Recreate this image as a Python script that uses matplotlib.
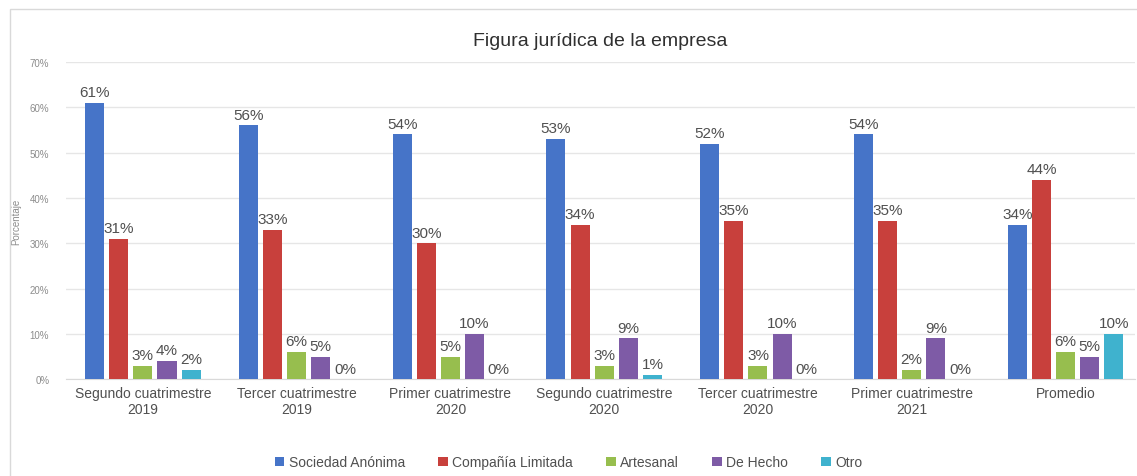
import numpy as np
import matplotlib
matplotlib.use("Agg")
import matplotlib.pyplot as plt
from matplotlib.patches import Rectangle

plt.rcParams['font.family'] = ['Liberation Sans', 'DejaVu Sans']

categories = ["Segundo cuatrimestre\n2019", "Tercer cuatrimestre\n2019", "Primer cuatrimestre\n2020",
              "Segundo cuatrimestre\n2020", "Tercer cuatrimestre\n2020", "Primer cuatrimestre\n2021",
              "Promedio"]
series_names = ["Sociedad Anónima", "Compañía Limitada", "Artesanal", "De Hecho", "Otro"]
sociedad = [61, 56, 54, 53, 52, 54, 34]
compania = [31, 33, 30, 34, 35, 35, 44]
artesanal = [3, 6, 5, 3, 3, 2, 6]
de_hecho = [4, 5, 10, 9, 10, 9, 5]
otro = [2, 0, 0, 1, 0, 0, 10]
colors = ["#4674C8", "#C8403C", "#97BE4E", "#7E5BA6", "#3FB2CE"]

series = [sociedad, compania, artesanal, de_hecho, otro]

fig = plt.figure(figsize=(11.37, 4.77), dpi=100)
fig.patches.append(Rectangle((0.009, -0.01), 1.0, 0.99, transform=fig.transFigure,
                             fill=False, edgecolor="#D9D9D9", linewidth=1))
ax = fig.add_axes([0.058, 0.203, 0.94, 0.665])

x = np.arange(len(categories))
step = 0.157
width = 0.124
for i, (name, vals) in enumerate(zip(series_names, series)):
    pos = x + (i - 2) * step
    ax.bar(pos, vals, width, color=colors[i], label=name, zorder=3)
    for p, v in zip(pos, vals):
        ax.text(p, v + 0.8, f"{v}%", ha="center", va="bottom", fontsize=11, color="#505050")

ax.set_ylim(0, 70)
ax.set_xlim(-0.5, 6.45)
ax.set_yticks(range(0, 71, 10))
ax.set_yticklabels([f"{t}%" for t in range(0, 71, 10)], fontsize=7, color="#8C8C8C")
ax.set_xticks(x)
ax.set_xticklabels(categories, fontsize=10, color="#505050")
ax.tick_params(axis="both", length=0)
ax.tick_params(axis="y", pad=12)
ax.tick_params(axis="x", pad=5)
ax.grid(axis="y", color="#E6E6E6", linewidth=1, zorder=0)
for s in ["top", "right", "left"]:
    ax.spines[s].set_visible(False)
ax.spines["bottom"].set_color("#D9D9D9")
ax.set_ylabel("Porcentaje", fontsize=7, color="#8C8C8C", labelpad=6)
ax.set_title("Figura jurídica de la empresa", fontsize=14, color="#303030", pad=12)

fig.legend(loc="lower center", bbox_to_anchor=(0.5, -0.012), ncol=5, frameon=False,
           fontsize=10, handlelength=0.7, handleheight=0.7, handletextpad=0.3,
           columnspacing=2.4, labelcolor="#505050")

fig.savefig("out.png", dpi=100)
